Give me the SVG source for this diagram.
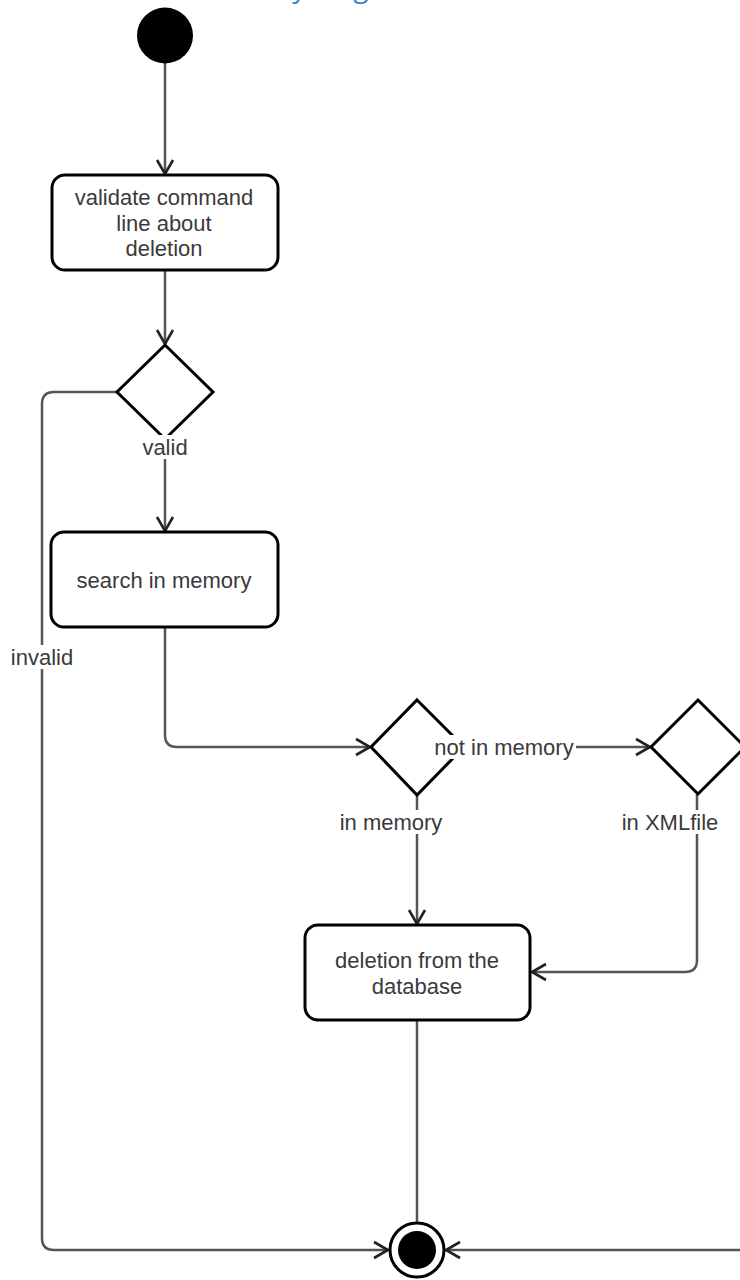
<svg xmlns="http://www.w3.org/2000/svg" width="740" height="1280" viewBox="0 0 740 1280">
  <defs>
    <marker id="arrow" markerUnits="userSpaceOnUse" markerWidth="20" markerHeight="20" viewBox="-16 -10 20 20" refX="0" refY="0" orient="auto">
      <path d="M -14 -8 L 0 0 L -14 8" fill="none" stroke="#222" stroke-width="2.6" stroke-linejoin="miter"/>
    </marker>
  </defs>
  <style>
    .conn { fill: none; stroke: #555; stroke-width: 2.5; }
    .box { fill: #fff; stroke: #000; stroke-width: 3; }
    .dia { fill: #fff; stroke: #000; stroke-width: 3; stroke-linejoin: miter; }
    .txt { font-family: "Liberation Sans", Arial, sans-serif; font-size: 22px; fill: #3a3a3a; text-anchor: middle; dominant-baseline: central; }
    .lblbg { fill: #fff; }
  </style>
  <rect x="0" y="0" width="740" height="1280" fill="#fff"/>
  <text x="213" y="-3" font-family="'Open Sans', sans-serif" font-size="28" fill="#3a86d4">Activity diagram</text>

  <g id="connectors">
    <path class="conn" d="M165 63 L165 174" marker-end="url(#arrow)"/>
    <path class="conn" d="M165 270 L165 344" marker-end="url(#arrow)"/>
    <path class="conn" d="M165 438 L165 531" marker-end="url(#arrow)"/>
    <path class="conn" d="M118 392 L54 392 Q42 392 42 404 L42 1238 Q42 1250 54 1250 L388 1250" marker-end="url(#arrow)"/>
    <path class="conn" d="M165 627 L165 735 Q165 747 177 747 L370 747" marker-end="url(#arrow)"/>
    <path class="conn" d="M464 747 L650 747" marker-end="url(#arrow)"/>
    <path class="conn" d="M417 795 L417 924" marker-end="url(#arrow)"/>
    <path class="conn" d="M697 794 L697 960 Q697 972 685 972 L532 972" marker-end="url(#arrow)"/>
    <path class="conn" d="M417 1020 L417 1222"/>
    <path class="conn" d="M744 747 L750 747 L750 1238 Q750 1250 738 1250 L446 1250" marker-end="url(#arrow)"/>
  </g>

  <g id="start">
    <circle cx="165" cy="35.5" r="28" fill="#000"/>
  </g>

  <g id="validate">
    <rect class="box" x="52" y="175" width="226" height="95" rx="13"/>
    <text class="txt" x="164" y="197">validate command</text>
    <text class="txt" x="164" y="223">line about</text>
    <text class="txt" x="164" y="248">deletion</text>
  </g>

  <g id="decision-valid">
    <polygon class="dia" points="165,345 213,392 165,439 117,392"/>
  </g>

  <g id="search">
    <rect class="box" x="51" y="532" width="227" height="95" rx="13"/>
    <text class="txt" x="164" y="580">search in memory</text>
  </g>

  <g id="decision-memory">
    <polygon class="dia" points="417,700 464,747 417,795 371,747"/>
  </g>

  <g id="decision-xml">
    <polygon class="dia" points="698,700 745,747 698,794 651,747"/>
  </g>

  <g id="deletion">
    <rect class="box" x="305" y="925" width="225" height="95" rx="13"/>
    <text class="txt" x="417" y="960">deletion from the</text>
    <text class="txt" x="417" y="986">database</text>
  </g>

  <g id="end">
    <circle cx="417" cy="1250" r="27" fill="#fff" stroke="#000" stroke-width="3"/>
    <circle cx="417" cy="1250" r="19" fill="#000"/>
  </g>

  <g id="edge-labels">
    <rect class="lblbg" x="139" y="435" width="52" height="24"/>
    <text class="txt" x="165" y="447">valid</text>
    <rect class="lblbg" x="8" y="645" width="68" height="24"/>
    <text class="txt" x="42" y="657">invalid</text>
    <rect class="lblbg" x="432" y="735" width="144" height="24"/>
    <text class="txt" x="504" y="747">not in memory</text>
    <rect class="lblbg" x="337" y="810" width="108" height="24"/>
    <text class="txt" x="391" y="822">in memory</text>
    <rect class="lblbg" x="619" y="810" width="102" height="24"/>
    <text class="txt" x="670" y="822">in XMLfile</text>
  </g>
</svg>
